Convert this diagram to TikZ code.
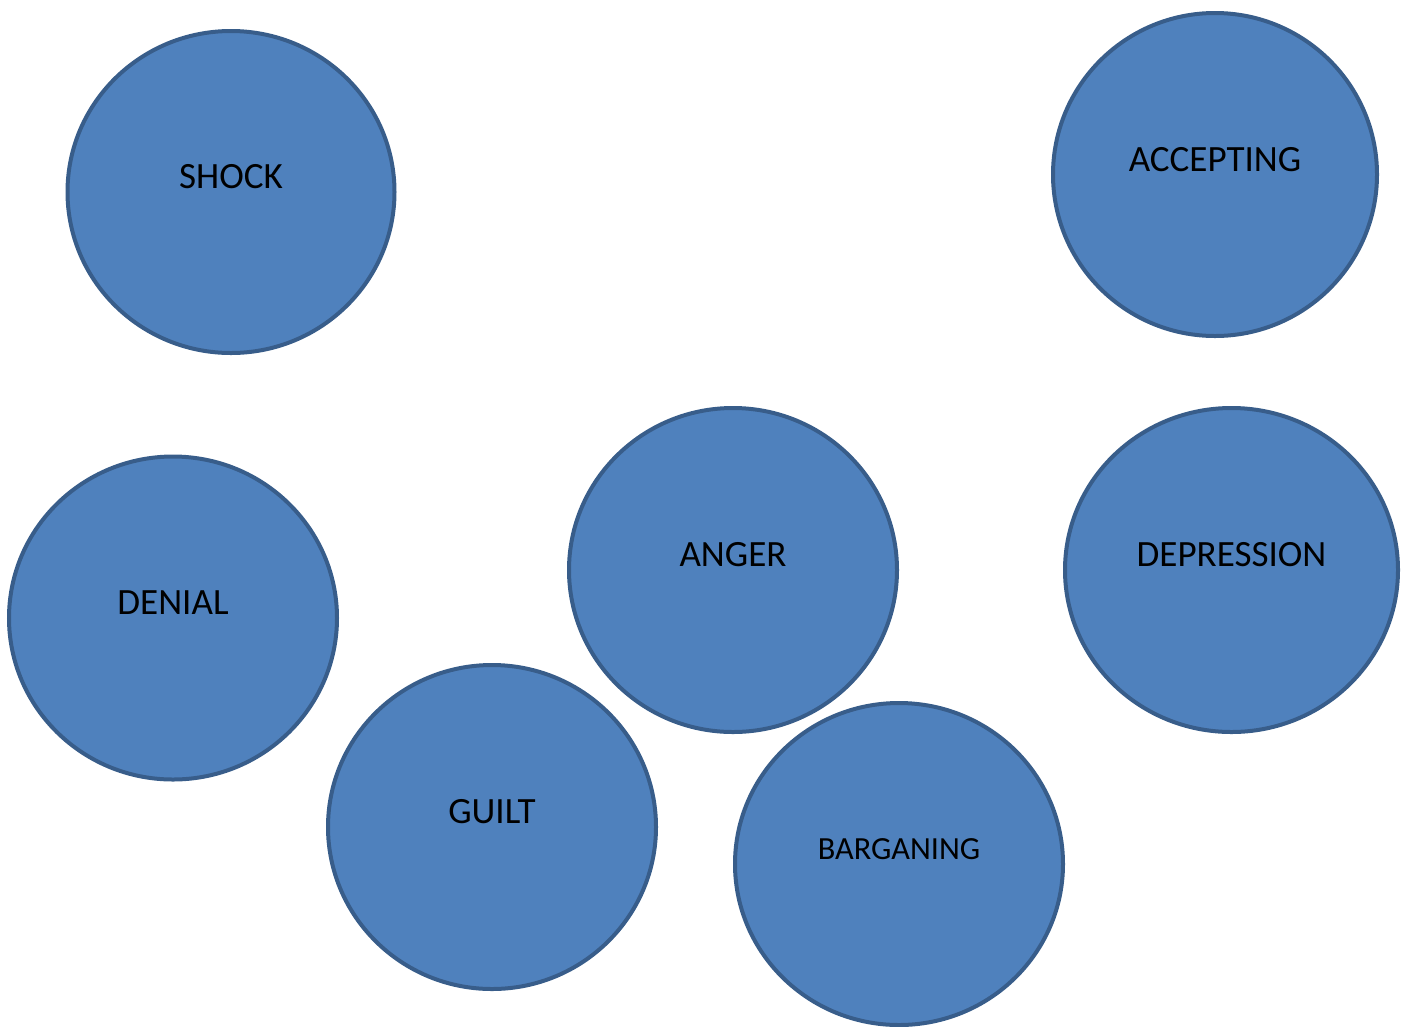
\documentclass[tikz,border=0pt]{standalone}
\usepackage{fontspec}
\setmainfont{Carlito}
\usepackage{tikz}
\usetikzlibrary{shapes.geometric}
\definecolor{stagefill}{HTML}{4F81BD}
\definecolor{stageline}{HTML}{385D8A}

\begin{document}
\begin{tikzpicture}[x=0.75pt, y=-0.75pt,
  stage/.style={ellipse, fill=stagefill, draw=stageline, line width=3pt, inner sep=0pt},
  stagetext/.style={text=black, inner sep=0pt}]
  \useasboundingbox (0,0) rectangle (1409,1026);
  \foreach \n/\x/\y/\rx/\ry/\s/\t in {shock/231/192/165.5/163/27.8/SHOCK, accepting/1215/174.5/164/163.5/27.8/ACCEPTING,
      denial/173/618/166/163.5/27.8/DENIAL, anger/733/570/166/164/27.8/ANGER, depression/1231.5/570/168.5/164/27.8/DEPRESSION,
      guilt/492/827/166/164/27.8/GUILT, barganing/899/864/166/163/24.2/BARGANING}
  {
    \node[stage, minimum width={(2*\rx-4)*0.75pt}, minimum height={(2*\ry-4)*0.75pt}] (\n) at (\x,\y) {};
    \node[stagetext, font=\fontsize{\s}{\s}\selectfont] (\n-txt) at ([yshift=11.25pt]\n.center) {\t};
  }
\end{tikzpicture}
\end{document}
